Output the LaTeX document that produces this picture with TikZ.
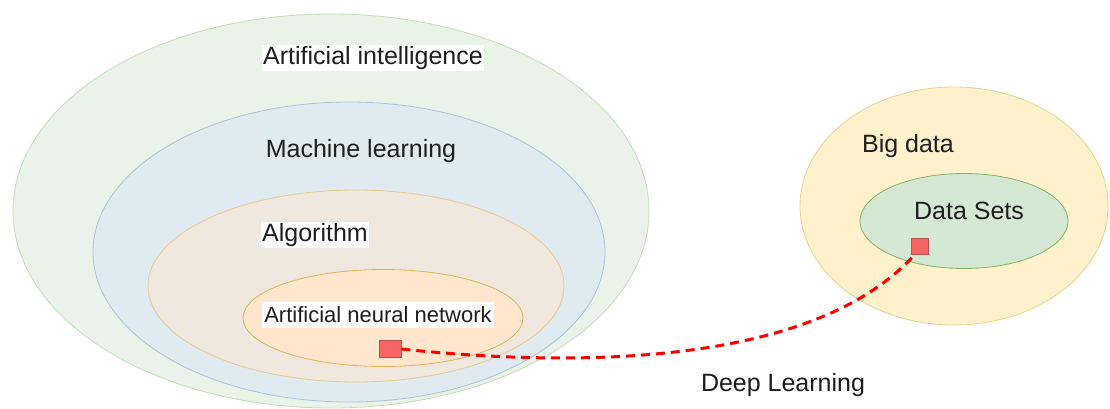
\documentclass[tikz,border=0pt]{standalone}
\usepackage{fontspec}
\setmainfont{Liberation Sans}
\usetikzlibrary{shapes.geometric}
\definecolor{aifill}{HTML}{E9F3E7}
\definecolor{aidraw}{HTML}{C2DDB8}
\definecolor{mlfill}{HTML}{DFEBF0}
\definecolor{mldraw}{HTML}{A9C4DA}
\definecolor{alfill}{HTML}{F0E8DE}
\definecolor{aldraw}{HTML}{E9C98E}
\definecolor{annfill}{HTML}{FFE6CC}
\definecolor{anndraw}{HTML}{D6B656}
\definecolor{bdfill}{HTML}{FFF1CC}
\definecolor{bddraw}{HTML}{E6D38F}
\definecolor{dsfill}{HTML}{D5E8D4}
\definecolor{dsdraw}{HTML}{82B366}
\definecolor{sqfill}{HTML}{F86464}
\definecolor{sqdraw}{HTML}{B85450}
\definecolor{txt}{HTML}{1E1E1E}
\tikzset{
  blob/.style={ellipse, inner sep=0pt, line width=0.8pt},
  lbl/.style={font=\fontsize{25}{30}\selectfont, text=txt, inner sep=1pt},
  lblbg/.style={lbl, fill=white},
  sq/.style={rectangle, fill=sqfill, draw=sqdraw, line width=0.6pt, inner sep=0pt},
  link/.style={draw=red, line width=3pt, dash pattern=on 9pt off 6pt}
}
\begin{document}
\begin{tikzpicture}[x=1pt,y=-1pt]
\useasboundingbox (0,0) rectangle (1110,409);
% left nested ellipses
\node[blob, fill=aifill, draw=aidraw, minimum width=636pt, minimum height=394pt] (ai) at (331,211) {};
\node[blob, fill=mlfill, draw=mldraw, minimum width=512pt, minimum height=300pt] (ml) at (349,252) {};
\node[blob, fill=alfill, draw=aldraw, minimum width=416pt, minimum height=192pt] (al) at (356,286) {};
\node[blob, fill=annfill, draw=anndraw, minimum width=280pt, minimum height=97pt] (ann) at (383,318) {};
% right ellipses
\node[blob, fill=bdfill, draw=bddraw, minimum width=308pt, minimum height=238pt] (bd) at (954,206) {};
\node[blob, fill=dsfill, draw=dsdraw, minimum width=208pt, minimum height=95pt] (ds) at (964,221) {};
% labels
\node[lblbg] (tai) at (373,58) {Artificial intelligence};
\node[lbl] (tml) at (361,151) {Machine learning};
\node[lblbg] (tal) at (315,235) {Algorithm};
\node[lblbg, font=\fontsize{22}{26}\selectfont, inner xsep=2pt, inner ysep=5pt] (tann) at (378,315) {Artificial neural network};
\node[lbl] (tbd) at (908,146) {Big data};
\node[lbl] (tds) at (969,211) {Data Sets};
\node[lbl] (tdl) at (783,385) {Deep Learning};
% red squares
\node[sq, minimum width=22pt, minimum height=17pt] (sqa) at (390,349) {};
\node[sq, minimum width=17pt, minimum height=16pt] (sqb) at (920,246) {};
% connector
\draw[link] (sqa.east) .. controls (600,370) and (820,360) .. ([xshift=-5pt]sqb.south);
\end{tikzpicture}
\end{document}
